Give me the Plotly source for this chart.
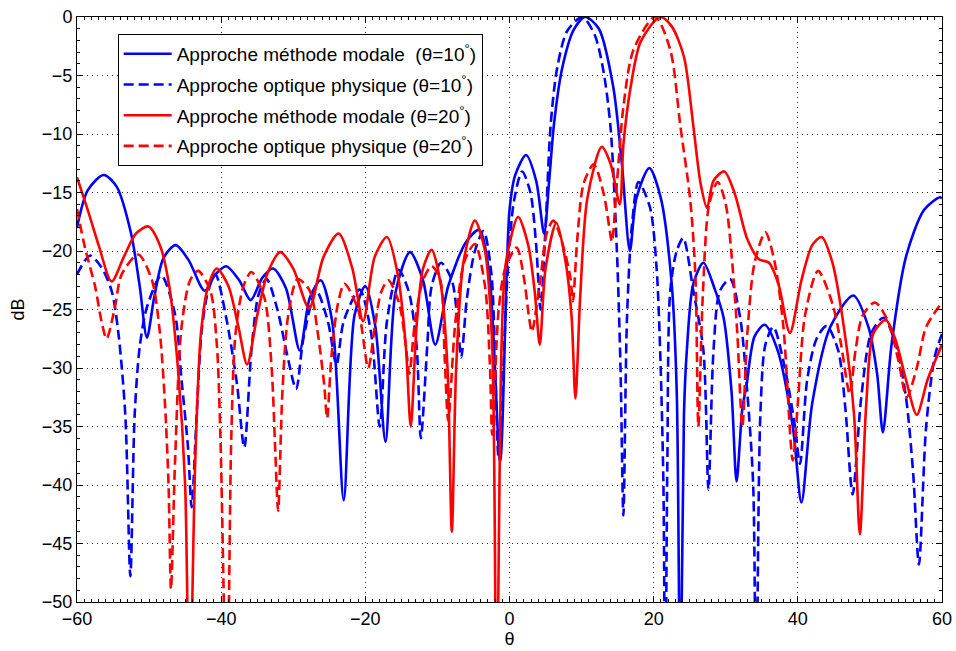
import plotly.graph_objects as go

# ---- Approche méthode modale (θ=10°) ----
theta_mm10 = [-60, -58.5, -56.3, -54.5, -52.5, -51.3, -50.3, -49.3, -48, -46.3, -44.5, -42.3, -40.8, -39.3,
              -37.5, -35.9, -34.3, -32.8, -31, -29.1, -27.7, -26.2, -24.6, -23.0, -21.5, -20.0, -18.6, -17.2,
              -15.8, -13.8, -12.0, -10.3, -8.5, -6.0, -4.2, -2.8, -1.3, 0, 0.8, 2.3, 3.7, 4.8, 5.5, 6.2, 7.3,
              8.9, 10.5, 12.4, 14.4, 15.6, 16.7, 17.6, 19.4, 21.0, 22.5, 23.2, 23.7, 24.2, 24.6, 25.5, 26.9,
              28.5, 29.7, 30.8, 31.5, 32.3, 32.9, 34.0, 35.4, 37.2, 39.3, 40.5, 42.0, 44.5, 47.7, 49.8, 51.0,
              51.8, 53.0, 55.0, 57.5, 59.7, 60]
db_mm10 = [-18.0, -14.8, -13.5, -14.5, -18.5, -23.0, -27.4, -24.0, -20.6, -19.5, -20.8, -23.4, -22.0, -21.3,
           -22.5, -24.2, -22.3, -21.5, -23.2, -28.5, -24.0, -22.5, -26.0, -41.3, -25.5, -23.0, -26.5, -36.3,
           -23.5, -20.1, -22.5, -28.0, -23.0, -19.2, -18.2, -22.0, -38.0, -16.5, -13.5, -11.8, -14.0, -18.5,
           -14.0, -9.0, -4.4, -1.1, 0.0, -1.0, -6.0, -12.6, -20.0, -15.5, -12.9, -15.5, -22.8, -32.0, -60.0,
           -34.0, -28.5, -22.8, -21.0, -23.3, -25.7, -32.0, -39.7, -33.5, -31.4, -27.3, -26.3, -28.5, -35.0,
           -41.5, -33.0, -26.5, -23.8, -26.5, -30.5, -35.5, -28.0, -20.5, -16.5, -15.4, -15.5]

# ---- Approche optique physique (θ=10°) ----
theta_op10 = [-60, -58.2, -56.6, -55.2, -54.3, -53.3, -52.6, -52.0, -51.3, -50.3, -48.3, -46.4, -45.5, -44.6,
              -44.1, -43.4, -42.7, -41.8, -40.8, -39.3, -37.8, -36.8, -35.8, -34.8, -33.7, -32.2, -30.8, -29.6,
              -28.6, -26.8, -25.2, -24.0, -23.0, -20.8, -19.2, -18.0, -17.0, -15.4, -14.0, -12.9, -12.3, -11.4,
              -10.8, -9.5, -8.0, -7.2, -6.7, -5.9, -4.8, -3.6, -2.5, -1.5, -0.3, 0.6, 1.75, 2.9, 3.7, 4.3, 5.0,
              5.7, 6.6, 8.0, 10.1, 11.8, 13.0, 14.0, 14.9, 15.4, 15.8, 16.3, 17.0, 17.9, 19.5, 20.4, 20.9, 21.35,
              21.6, 21.9, 22.3, 23.2, 24.1, 25.5, 26.9, 27.6, 28.3, 29.2, 30.6, 32.0, 32.9, 33.8, 34.2, 34.8,
              35.5, 36.6, 38.2, 39.6, 40.3, 41.3, 42.6, 44.0, 45.6, 46.6, 47.6, 48.8, 50.2, 51.9, 53.6, 55.0,
              56.0, 56.8, 57.8, 59.0, 60]
db_op10 = [-22.0, -20.4, -21.4, -23.4, -26.8, -34.0, -47.8, -34.0, -28.2, -24.8, -22.1, -25.4, -31.0, -36.8,
           -41.9, -34.0, -26.8, -23.4, -22.0, -25.7, -31.4, -36.8, -28.5, -23.7, -22.4, -25.0, -29.0, -31.8,
           -27.5, -23.4, -26.0, -29.7, -26.0, -23.3, -27.0, -35.0, -26.0, -21.6, -23.4, -28.0, -36.0, -28.0,
           -23.0, -21.0, -22.5, -26.0, -29.1, -24.0, -20.0, -18.3, -22.0, -37.7, -22.3, -15.8, -13.2, -15.0,
           -19.5, -25.0, -18.0, -9.3, -4.4, -1.2, 0.0, -1.5, -4.5, -9.3, -20.0, -30.0, -42.6, -25.7, -17.7,
           -14.1, -16.3, -21.4, -28.5, -39.9, -60.0, -38.0, -23.4, -20.0, -18.9, -23.4, -28.5, -40.4, -28.5,
           -23.4, -22.4, -25.7, -31.4, -39.9, -60.0, -34.0, -28.0, -26.5, -30.0, -35.0, -38.2, -31.0, -27.5,
           -26.4, -28.5, -33.5, -40.8, -32.5, -27.0, -25.7, -28.0, -32.5, -39.0, -46.8, -35.0, -29.0, -27.1]

# ---- Approche méthode modale (θ=20°) ----
theta_mm20 = [-60, -58.5, -57, -55.2, -53.5, -51.8, -50.1, -48.5, -47.2, -46.0, -45.0, -44.4, -43.6, -42.8,
              -41.8, -40.6, -39.0, -37.6, -36.4, -35.0, -33.5, -31.8, -30.0, -27.8, -25.8, -23.7, -21.8, -20.3,
              -18.7, -17.0, -15.5, -14.4, -13.7, -12.9, -12.0, -10.8, -9.5, -8.6, -8.0, -7.4, -6.4, -4.8, -3.4,
              -2.4, -1.8, -1.1, -0.5, 1.2, 2.6, 3.5, 4.2, 5.0, 6.5, 7.8, 8.6, 9.15, 9.8, 10.8, 12.8, 14.0, 15.3,
              15.8, 16.8, 18.2, 20.9, 22.5, 24.2, 25.5, 26.5, 27.4, 28.3, 29.8, 31.2, 33.0, 34.6, 36.0, 37.3,
              38.9, 40.5, 42.0, 43.3, 44.8, 46.5, 47.8, 48.6, 49.5, 50.5, 52.2, 53.5, 55.0, 56.5, 58.0, 60]
db_mm20 = [-13.7, -16.5, -19.5, -22.6, -20.5, -18.5, -17.9, -19.5, -23.0, -30.0, -40.0, -60.0, -38.0, -27.0,
           -23.0, -21.5, -23.0, -26.5, -29.7, -25.5, -21.8, -20.1, -21.5, -24.9, -20.5, -18.5, -21.5, -26.0,
           -20.5, -18.8, -22.0, -28.0, -35.0, -26.5, -21.5, -19.9, -23.0, -30.0, -44.0, -30.0, -21.0, -17.4,
           -20.0, -28.0, -60.0, -28.0, -21.0, -17.1, -19.5, -23.5, -28.0, -21.5, -17.6, -21.0, -25.5, -32.6,
           -24.0, -15.5, -11.1, -12.5, -16.0, -10.9, -6.0, -2.1, 0.0, -0.8, -3.4, -9.3, -14.2, -16.3, -14.0,
           -13.2, -15.0, -19.0, -20.7, -21.0, -22.8, -27.0, -22.5, -19.5, -18.8, -21.0, -27.0, -34.0, -44.2,
           -33.0, -27.0, -25.9, -27.5, -31.0, -34.0, -31.0, -28.0]

# ---- Approche optique physique (θ=20°) ----
theta_op20 = [-60, -58.9, -57.5, -56.6, -55.9, -54.8, -53.8, -51.5, -49.6, -48.5, -47.8, -47.3, -46.96, -46.4,
              -45.5, -44.3, -43.2, -41.5, -40.6, -40.1, -39.2, -38.6, -38.0, -36.9, -35.8, -34.0, -33.0, -32.5,
              -32.1, -31.5, -30.7, -29.4, -27.7, -26.6, -25.7, -25.3, -24.7, -23.8, -22.9, -21.0, -19.6, -18.7,
              -17.8, -16.8, -15.3, -14.4, -13.9, -13.1, -12.0, -10.8, -9.6, -9.0, -8.5, -7.5, -6.2, -4.8, -3.4,
              -2.7, -2.4, -1.5, -0.6, 1.0, 2.0, 2.7, 3.1, 4.3, 5.2, 6.1, 7.5, 8.45, 8.8, 9.4, 10.3, 11.7, 13.1,
              13.8, 14.2, 14.9, 15.8, 17.2, 20.2, 22.3, 23.7, 25.1, 25.8, 26.2, 26.8, 27.7, 28.9, 30.0, 30.9,
              31.6, 32.3, 33.0, 34.0, 35.5, 36.8, 38.0, 39.3, 40.0, 41.0, 42.8, 44.8, 46.0, 47.2, 48.0, 49.0,
              50.7, 52.5, 54.0, 55.1, 56.5, 57.8, 60]
db_op20 = [-16.4, -19.7, -23.0, -26.0, -27.5, -25.0, -22.0, -20.3, -22.5, -27.0, -33.0, -40.0, -48.9, -38.0,
           -26.5, -22.5, -21.7, -23.4, -28.0, -36.0, -60.0, -36.0, -27.0, -23.0, -21.8, -24.0, -30.0, -37.0,
           -42.2, -32.0, -25.5, -22.4, -23.4, -27.0, -31.5, -34.3, -29.0, -24.5, -22.8, -25.0, -30.0, -26.5,
           -23.5, -22.5, -24.5, -28.0, -30.5, -26.0, -22.5, -21.3, -22.5, -29.0, -34.5, -26.0, -20.8, -19.4,
           -23.0, -30.0, -35.7, -25.0, -21.5, -19.7, -22.3, -25.6, -26.9, -22.3, -18.4, -17.4, -19.7, -22.3,
           -24.3, -19.0, -14.2, -12.6, -15.2, -17.8, -19.2, -14.2, -7.7, -2.8, 0.0, -2.8, -9.3, -15.8, -22.3,
           -35.0, -24.0, -16.0, -14.1, -16.0, -21.0, -27.0, -35.0, -27.0, -21.0, -18.4, -21.0, -26.5, -37.9,
           -33.0, -25.5, -21.7, -24.5, -28.0, -32.2, -28.5, -25.5, -24.4, -26.0, -29.5, -32.5, -30.0, -26.5,
           -24.4]

x_ticks = [-60, -40, -20, 0, 20, 40, 60]
y_ticks = [0, -5, -10, -15, -20, -25, -30, -35, -40, -45, -50]

names = ["Approche méthode modale  (θ=10<sup>°</sup>)",
         "Approche optique physique (θ=10<sup>°</sup>)",
         "Approche méthode modale (θ=20<sup>°</sup>)",
         "Approche optique physique (θ=20<sup>°</sup>)"]

BLUE = "#0000ff"
RED = "#ff0000"
DASH = "10px,5px"

series = [
    (theta_mm10, db_mm10, names[0], BLUE, "solid"),
    (theta_op10, db_op10, names[1], BLUE, DASH),
    (theta_mm20, db_mm20, names[2], RED, "solid"),
    (theta_op20, db_op20, names[3], RED, DASH),
]

fig = go.Figure()
for i, (x, y, nm, col, dsh) in enumerate(series):
    fig.add_trace(go.Scatter(
        x=x, y=y, name=nm, mode="lines", legendgroup=f"g{i}",
        line=dict(color=col, width=2.6, dash=dsh, shape="spline", smoothing=0.8),
    ))

font_family = "Liberation Sans, Arial, Helvetica, sans-serif"
axis_common = dict(
    showline=True, linecolor="black", linewidth=1, mirror="ticks",
    ticks="inside", ticklen=6, tickcolor="black", automargin=False,
    ticklabeloverflow="allow",
    showgrid=True, gridcolor="#333333", griddash="1px,4px", gridwidth=1,
    zeroline=False, tickfont=dict(family=font_family, size=18, color="black"),
)

fig.update_layout(
    width=956, height=651, autosize=False,
    margin=dict(l=77, r=14, t=17, b=49),
    paper_bgcolor="white", plot_bgcolor="white",
    font=dict(family=font_family, size=18, color="black"),
    xaxis=dict(range=[-60, 60], tickvals=x_ticks,
               minor=dict(ticks="inside", dtick=1, ticklen=3, tickcolor="black", showgrid=False),
               title=dict(text="θ", standoff=4, font=dict(size=18)), **axis_common),
    yaxis=dict(range=[-50, 0], tickvals=y_ticks,
               minor=dict(ticks="inside", dtick=1, ticklen=3, tickcolor="black", showgrid=False),
               title=dict(text="dB", standoff=12, font=dict(size=18)), **axis_common),
    legend=dict(x=0.047, y=0.971, xanchor="left", yanchor="top",
                bgcolor="white", bordercolor="black", borderwidth=1,
                font=dict(family=font_family, size=19, color="black"),
                itemwidth=48,
                tracegroupgap=3, traceorder="grouped"),
    showlegend=True,
)

# remove the browser's default 8px page margin so the 956x651 figure fills the window exactly
fig.write_html("out.html",
               config={"displayModeBar": False},
               post_script="document.body.style.margin='0px';document.body.style.overflow='hidden';")
